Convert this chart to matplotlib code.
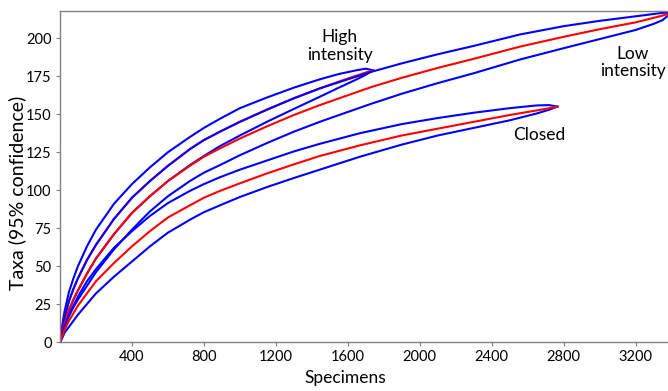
import matplotlib
matplotlib.use("Agg")
import matplotlib.pyplot as plt

plt.rcParams['font.family'] = ['Lato', 'DejaVu Sans']

# High intensity
hi_x = [0, 10, 25, 50, 75, 100, 150, 200, 300, 400, 500, 600, 722, 800, 889,
        1000, 1150, 1300, 1444, 1550, 1650, 1700, 1741]
hi_up = [0, 9, 20, 33, 42, 50, 63, 74, 91, 104, 115, 125, 135, 141, 147,
         154, 161, 167.5, 173, 176.5, 179, 180, 179]
hi_mid = [0, 7, 16, 27, 35, 42, 54, 64, 81, 95, 106, 116, 127, 133, 138.5,
          145, 153, 160.5, 167, 171.5, 175.5, 177.5, 179]
hi_lo = [0, 5, 12, 21, 28, 34, 45, 55, 71, 85, 96, 106, 116.5, 122.5, 129,
         136, 145, 153.5, 161.5, 167.5, 173, 176, 179]

# Low intensity
lo_x = [0, 10, 25, 50, 75, 100, 150, 200, 300, 400, 500, 600, 722, 800, 889,
        1000, 1150, 1300, 1444, 1600, 1733, 1900, 2100, 2300, 2556, 2800,
        3000, 3200, 3300, 3350, 3400]
lo_up = [0, 7, 16, 27, 35, 42, 54, 64, 81, 95, 106, 116, 127, 133, 138.5,
         145, 153, 160.5, 167, 173, 178, 183.5, 189.5, 195, 202.5, 208,
         211.5, 214.5, 216, 216.8, 217]
lo_mid = [0, 5, 12, 21, 28, 34, 45, 55, 71, 85, 96, 106, 116, 122, 127.5,
          134, 142, 149.5, 156, 162.5, 168, 174, 180.5, 186.5, 194.5, 201,
          206, 210.5, 213.5, 215, 217]
lo_lo = [0, 4, 10, 17, 23, 28, 37, 46, 61, 74, 86, 96, 106, 111.5, 116.5,
         123, 131, 138.5, 145, 151.5, 157, 163.5, 170.5, 177, 186, 193.5,
         199.5, 205.5, 209.5, 212, 217]

# Closed
cl_x = [0, 10, 25, 50, 75, 100, 150, 200, 300, 400, 500, 600, 722, 800, 889,
        1000, 1150, 1300, 1444, 1667, 1900, 2100, 2300, 2500, 2650, 2720, 2765]
cl_up = [0, 4, 10, 18, 24, 30, 40, 48, 62, 73, 83, 91.5, 99.5, 104, 108.5,
         113.5, 119.5, 125.5, 130.5, 137.5, 143.5, 147.5, 151, 154, 155.8, 156, 155]
cl_mid = [0, 3, 8, 14, 19, 24, 32, 40, 52, 63, 73, 82, 90, 95, 99.5,
          104.5, 111, 117, 122.5, 129.5, 136, 140.5, 145, 149.5, 152.5, 154, 155]
cl_lo = [0, 2, 6, 10, 14, 18, 25, 32, 43, 53, 63, 72, 80.5, 85.5, 90,
         95.5, 102, 108, 113.5, 122, 130, 136, 141, 146, 150.5, 153, 155]

xticks = [400, 800, 1200, 1600, 2000, 2400, 2800, 3200]
yticks = [0, 25, 50, 75, 100, 125, 150, 175, 200]

fig = plt.figure(figsize=(6.68, 3.91), dpi=100)
ax = fig.add_axes([0.0898, 0.1253, 0.9102, 0.8466])

blue = '#0000ff'
red = '#ff0000'
for x, up, mid, lo in [(hi_x, hi_up, hi_mid, hi_lo),
                       (lo_x, lo_up, lo_mid, lo_lo),
                       (cl_x, cl_up, cl_mid, cl_lo)]:
    ax.plot(x, up, color=blue, lw=1.5, solid_joinstyle='round')
    ax.plot(x, lo, color=blue, lw=1.5, solid_joinstyle='round')
    ax.plot(x, mid, color=red, lw=1.5, solid_joinstyle='round')

ax.set_xlim(0, 3380)
ax.set_ylim(0, 218)
ax.set_xticks(xticks)
ax.set_yticks(yticks)
ax.tick_params(labelsize=10.5, length=3, color='#808080', pad=3)
for s in ['left', 'bottom', 'top']:
    ax.spines[s].set_color('#808080')
    ax.spines[s].set_linewidth(1)
ax.spines['right'].set_visible(False)

ax.set_xlabel('Specimens', fontsize=12.5)
ax.set_ylabel('Taxa (95% confidence)', fontsize=14)
ax.xaxis.set_label_coords(0.469, -0.109)
ax.yaxis.set_label_coords(-0.071, 0.45)
ax.xaxis.label.set_va('center')
ax.yaxis.label.set_va('center')

ax.text(1556, 195, 'High\nintensity', ha='center', va='center', fontsize=12.5, linespacing=1.1)
ax.text(3185, 184, 'Low\nintensity', ha='center', va='center', fontsize=12.5, linespacing=1.1)
ax.text(2667, 136, 'Closed', ha='center', va='center', fontsize=12.5)

fig.savefig('out.png', dpi=100)
